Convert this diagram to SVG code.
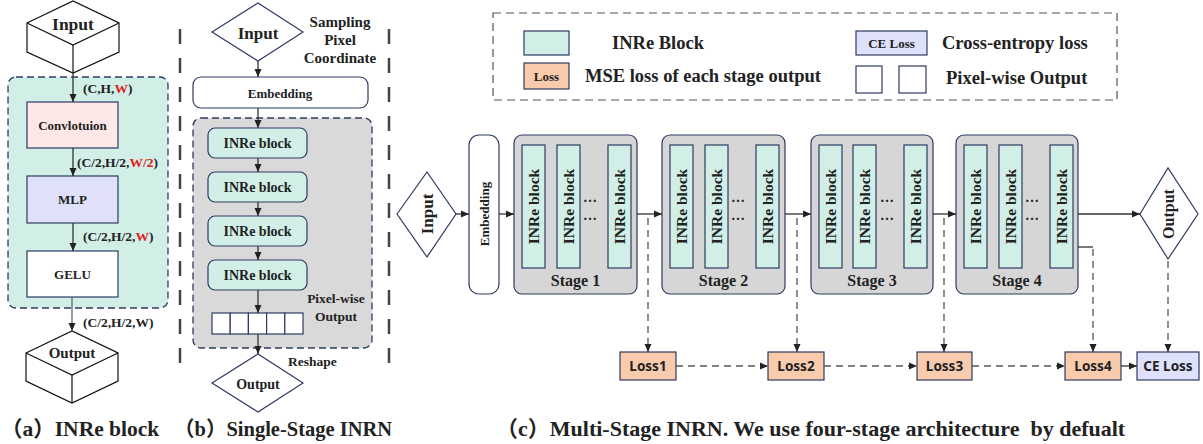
<svg xmlns="http://www.w3.org/2000/svg" width="1203" height="444" viewBox="0 0 1203 444">
<style>
.t{font-family:"Liberation Serif","Noto Sans CJK SC",serif;font-weight:bold;fill:#222}
.s{font-family:"Noto Sans","Open Sans",sans-serif;font-weight:bold;fill:#222}
.m{text-anchor:middle;dominant-baseline:central}
.nav{stroke:#2e3b63;stroke-width:1.2}
.grn{fill:#d1efe7}
.pink{fill:#fde7e7}
.lav{fill:#dfe1fb}
.org{fill:#f8cbad}
.wht{fill:#fff}
.gry{fill:#d6d6d6}
.cube{fill:#fff;stroke:#111;stroke-width:1.2}
.ln{stroke:#333;stroke-width:1.3;fill:none}
.dl{stroke:#555;stroke-width:1.3;fill:none;stroke-dasharray:7,5}
.blk{fill:#d1efe7;stroke:#2e3b63;stroke-width:1.2}
.lg{font-size:18.5px}
</style>
<defs>
<marker id="ah" markerUnits="userSpaceOnUse" markerWidth="8" markerHeight="8" refX="8" refY="4" orient="auto">
<path d="M0,0.5 L8,4 L0,7.5 z" fill="#222"/>
</marker>
</defs>

<!-- (a) INRe block -->
<g id="a-input">
<polygon class="cube" points="27,23 73,1 119,23 119,52 73,73 27,52"/>
<polyline class="cube" points="27,23 73,45 119,23" fill="none"/>
<line x1="73" y1="45" x2="73" y2="73" stroke="#111" stroke-width="1.2"/>
<text class="t m" x="73" y="24" font-size="17.5">Input</text>
</g>
<g id="a-container">
<rect x="8" y="77" width="160" height="231" rx="8" class="grn" stroke="#2e3b63" stroke-width="1.3" stroke-dasharray="7,4"/>
</g>
<g id="a-conv">
<rect x="27" y="102" width="91" height="46" class="pink nav"/>
<text class="t m" x="72.5" y="125" font-size="13">Convlotuion</text>
</g>
<g id="a-mlp">
<rect x="27" y="176" width="91" height="47" class="lav nav"/>
<text class="t m" x="72.5" y="199.5" font-size="13">MLP</text>
</g>
<g id="a-gelu">
<rect x="27" y="251" width="91" height="46" class="wht nav"/>
<text class="t m" x="72.5" y="274" font-size="13">GELU</text>
</g>
<g id="a-output">
<polygon class="cube" points="26,353 72,331 118,353 118,381 72,403 26,381"/>
<polyline class="cube" points="26,353 72,375 118,353" fill="none"/>
<line x1="72" y1="375" x2="72" y2="403" stroke="#111" stroke-width="1.2"/>
<text class="t m" x="72" y="353" font-size="15">Output</text>
</g>
<g id="a-labels" font-size="13.5">
<text class="t" x="83" y="93">(C,H,<tspan fill="#e02020">W</tspan>)</text>
<text class="t" x="77" y="167">(C/2,H/2,<tspan fill="#e02020">W/2</tspan>)</text>
<text class="t" x="83" y="241">(C/2,H/2,<tspan fill="#e02020">W</tspan>)</text>
<text class="t" x="83" y="327">(C/2,H/2,W)</text>
</g>
<text class="t" x="1" y="436" font-size="21.5">（a）INRe block</text>

<!-- (b) Single-Stage INRN -->
<g id="b-separators">
<line x1="180" y1="29" x2="180" y2="372" stroke="#444" stroke-width="2.5" stroke-dasharray="15,14"/>
<line x1="389" y1="29" x2="389" y2="372" stroke="#444" stroke-width="2.5" stroke-dasharray="15,14"/>
</g>
<g id="b-input">
<polygon points="212,32 258,3 303,32 258,61" fill="#fff" stroke="#2e3b63" stroke-width="1.2"/>
<text class="t m" x="258" y="33" font-size="17">Input</text>
</g>
<g id="b-sampling" font-size="15">
<text class="t" x="340" y="27" text-anchor="middle">Sampling</text>
<text class="t" x="340" y="45" text-anchor="middle">Pixel</text>
<text class="t" x="340" y="63" text-anchor="middle">Coordinate</text>
</g>
<g id="b-embedding">
<rect x="193" y="77" width="175" height="31" rx="8" class="wht nav"/>
<text class="t m" x="280" y="93" font-size="13">Embedding</text>
</g>
<g id="b-container">
<rect x="193" y="118" width="179" height="230" rx="8" fill="#d9d9d9" stroke="#2e3b63" stroke-width="1.3" stroke-dasharray="7,4"/>
</g>
<g id="b-inre1"><rect x="208" y="128" width="99" height="30" rx="7" class="blk"/><text class="t m" x="257.5" y="143" font-size="14">INRe block</text></g>
<g id="b-inre2"><rect x="208" y="172" width="99" height="30" rx="7" class="blk"/><text class="t m" x="257.5" y="187" font-size="14">INRe block</text></g>
<g id="b-inre3"><rect x="208" y="216" width="99" height="30" rx="7" class="blk"/><text class="t m" x="257.5" y="231" font-size="14">INRe block</text></g>
<g id="b-inre4"><rect x="208" y="260" width="99" height="30" rx="7" class="blk"/><text class="t m" x="257.5" y="275" font-size="14">INRe block</text></g>
<g id="b-pixels" fill="#fff" stroke="#2e3b63" stroke-width="1.2">
<rect x="212" y="313" width="18.2" height="21"/>
<rect x="230.2" y="313" width="18.2" height="21"/>
<rect x="248.4" y="313" width="18.2" height="21"/>
<rect x="266.6" y="313" width="18.2" height="21"/>
<rect x="284.8" y="313" width="18.2" height="21"/>
</g>
<g id="b-pixel-label" font-size="13.5">
<text class="t" x="336" y="303" text-anchor="middle">Pixel-wise</text>
<text class="t" x="336" y="321" text-anchor="middle">Output</text>
<text class="t" x="288" y="366">Reshape</text>
</g>
<g id="b-output">
<polygon points="212,383 258,354 303,383 258,412" fill="#fff" stroke="#2e3b63" stroke-width="1.2"/>
<text class="t m" x="258" y="384" font-size="14">Output</text>
</g>
<text class="t" x="174" y="436" font-size="20.5">（b）Single-Stage INRN</text>

<!-- (c) legend -->
<g id="legend">
<rect x="493" y="13" width="624" height="87" fill="none" stroke="#555" stroke-width="1.2" stroke-dasharray="8,5"/>
<rect x="524" y="31" width="45" height="24" class="grn nav"/>
<text class="t lg" x="612" y="49">INRe Block</text>
<rect x="524" y="63" width="45" height="26" class="org nav"/>
<text class="t m" x="546.5" y="76.5" font-size="13">Loss</text>
<text class="t lg" x="585" y="82">MSE loss of each stage output</text>
<rect x="856" y="31" width="71" height="24" class="lav nav"/>
<text class="t m" x="891.5" y="43" font-size="13">CE Loss</text>
<text class="t lg" x="942" y="49">Cross-entropy loss</text>
<rect x="856" y="66" width="26" height="27" class="wht nav"/>
<rect x="899" y="66" width="27" height="27" class="wht nav"/>
<text class="t lg" x="946" y="84">Pixel-wise Output</text>
</g>

<!-- (c) multi-stage -->
<g id="c-input">
<polygon points="397,214 427,172 456,214 427,257" fill="#fff" stroke="#2e3b63" stroke-width="1.2"/>
<text class="t m" transform="translate(427,214) rotate(-90)" font-size="17">Input</text>
</g>
<g id="c-embedding">
<rect x="469" y="135" width="30" height="159" rx="10" class="wht nav"/>
<text class="t m" transform="translate(484,214) rotate(-90)" font-size="13">Embedding</text>
</g>
<g id="stage1">
<rect x="514" y="135" width="123" height="159" rx="8" class="gry nav"/>
<rect x="522" y="145" width="23" height="123" class="blk"/>
<rect x="557" y="145" width="23" height="123" class="blk"/>
<rect x="608" y="145" width="23" height="123" class="blk"/>
<text class="t m" transform="translate(533.5,206.5) rotate(-90)" font-size="15.5">INRe block</text>
<text class="t m" transform="translate(568.5,206.5) rotate(-90)" font-size="15.5">INRe block</text>
<text class="t m" transform="translate(619.5,206.5) rotate(-90)" font-size="15.5">INRe block</text>
<text class="t" x="590" y="202" text-anchor="middle" font-size="14">…</text>
<text class="t" x="590" y="220" text-anchor="middle" font-size="14">…</text>
<text class="t" x="575.5" y="286" text-anchor="middle" font-size="16">Stage 1</text>
</g>
<g id="stage2">
<rect x="662" y="135" width="123" height="159" rx="8" class="gry nav"/>
<rect x="670" y="145" width="23" height="123" class="blk"/>
<rect x="705" y="145" width="23" height="123" class="blk"/>
<rect x="756" y="145" width="23" height="123" class="blk"/>
<text class="t m" transform="translate(681.5,206.5) rotate(-90)" font-size="15.5">INRe block</text>
<text class="t m" transform="translate(716.5,206.5) rotate(-90)" font-size="15.5">INRe block</text>
<text class="t m" transform="translate(767.5,206.5) rotate(-90)" font-size="15.5">INRe block</text>
<text class="t" x="738" y="202" text-anchor="middle" font-size="14">…</text>
<text class="t" x="738" y="220" text-anchor="middle" font-size="14">…</text>
<text class="t" x="723.5" y="286" text-anchor="middle" font-size="16">Stage 2</text>
</g>
<g id="stage3">
<rect x="811" y="135" width="122" height="159" rx="8" class="gry nav"/>
<rect x="819" y="145" width="23" height="123" class="blk"/>
<rect x="853" y="145" width="23" height="123" class="blk"/>
<rect x="904" y="145" width="23" height="123" class="blk"/>
<text class="t m" transform="translate(830.5,206.5) rotate(-90)" font-size="15.5">INRe block</text>
<text class="t m" transform="translate(864.5,206.5) rotate(-90)" font-size="15.5">INRe block</text>
<text class="t m" transform="translate(915.5,206.5) rotate(-90)" font-size="15.5">INRe block</text>
<text class="t" x="887" y="202" text-anchor="middle" font-size="14">…</text>
<text class="t" x="887" y="220" text-anchor="middle" font-size="14">…</text>
<text class="t" x="872" y="286" text-anchor="middle" font-size="16">Stage 3</text>
</g>
<g id="stage4">
<rect x="956" y="135" width="122" height="159" rx="8" class="gry nav"/>
<rect x="964" y="145" width="23" height="123" class="blk"/>
<rect x="999" y="145" width="23" height="123" class="blk"/>
<rect x="1050" y="145" width="23" height="123" class="blk"/>
<text class="t m" transform="translate(975.5,206.5) rotate(-90)" font-size="15.5">INRe block</text>
<text class="t m" transform="translate(1010.5,206.5) rotate(-90)" font-size="15.5">INRe block</text>
<text class="t m" transform="translate(1061.5,206.5) rotate(-90)" font-size="15.5">INRe block</text>
<text class="t" x="1032" y="202" text-anchor="middle" font-size="14">…</text>
<text class="t" x="1032" y="220" text-anchor="middle" font-size="14">…</text>
<text class="t" x="1017" y="286" text-anchor="middle" font-size="16">Stage 4</text>
</g>
<g id="c-output">
<polygon points="1140,214 1168,168 1198,214 1168,259" fill="#fff" stroke="#2e3b63" stroke-width="1.2"/>
<text class="t m" transform="translate(1168,214) rotate(-90)" font-size="16">Output</text>
</g>
<g id="loss1"><rect x="620" y="352" width="56" height="28" class="org nav"/><text class="s m" x="648" y="366" font-size="13.5">Loss1</text></g>
<g id="loss2"><rect x="768" y="352" width="56" height="28" class="org nav"/><text class="s m" x="796" y="366" font-size="13.5">Loss2</text></g>
<g id="loss3"><rect x="917" y="352" width="55" height="28" class="org nav"/><text class="s m" x="944.5" y="366" font-size="13.5">Loss3</text></g>
<g id="loss4"><rect x="1065" y="352" width="56" height="28" class="org nav"/><text class="s m" x="1093" y="366" font-size="13.5">Loss4</text></g>
<g id="celoss"><rect x="1137" y="352" width="62" height="28" class="lav nav"/><text class="s m" x="1168" y="366" font-size="13.5">CE Loss</text></g>

<g id="connectors">
<!-- (a) -->
<line class="ln" x1="73" y1="73" x2="73" y2="102" marker-end="url(#ah)"/>
<line class="ln" x1="73" y1="148" x2="73" y2="176" marker-end="url(#ah)"/>
<line class="ln" x1="73" y1="223" x2="73" y2="251" marker-end="url(#ah)"/>
<line x1="72" y1="297" x2="72" y2="331" stroke="#666" stroke-width="1.3" marker-end="url(#ah)"/>
<!-- (b) -->
<line class="ln" x1="258" y1="61" x2="258" y2="77" marker-end="url(#ah)"/>
<line class="ln" x1="258" y1="108" x2="258" y2="128" marker-end="url(#ah)"/>
<line class="ln" x1="258" y1="158" x2="258" y2="172" marker-end="url(#ah)"/>
<line class="ln" x1="258" y1="202" x2="258" y2="216" marker-end="url(#ah)"/>
<line class="ln" x1="258" y1="246" x2="258" y2="260" marker-end="url(#ah)"/>
<line class="ln" x1="258" y1="290" x2="258" y2="313" marker-end="url(#ah)"/>
<line class="ln" x1="258" y1="334" x2="258" y2="354" marker-end="url(#ah)"/>
<!-- (c) -->
<line class="ln" x1="456" y1="214" x2="469" y2="214" marker-end="url(#ah)"/>
<line class="ln" x1="499" y1="214" x2="514" y2="214" marker-end="url(#ah)"/>
<line class="ln" x1="637" y1="214" x2="662" y2="214" marker-end="url(#ah)"/>
<line class="ln" x1="785" y1="214" x2="811" y2="214" marker-end="url(#ah)"/>
<line class="ln" x1="933" y1="214" x2="956" y2="214" marker-end="url(#ah)"/>
<line class="ln" x1="1078" y1="214" x2="1140" y2="214" marker-end="url(#ah)"/>
<polyline class="ln" points="1078,247 1093,247"/>
<line class="dl" x1="648" y1="218" x2="648" y2="352" marker-end="url(#ah)"/>
<line class="dl" x1="797" y1="218" x2="797" y2="352" marker-end="url(#ah)"/>
<line class="dl" x1="944" y1="218" x2="944" y2="352" marker-end="url(#ah)"/>
<line class="dl" x1="1093" y1="249" x2="1093" y2="352" marker-end="url(#ah)"/>
<line class="dl" x1="1168" y1="261" x2="1168" y2="352" marker-end="url(#ah)"/>
<line class="dl" x1="676" y1="366" x2="768" y2="366" marker-end="url(#ah)"/>
<line class="dl" x1="824" y1="366" x2="917" y2="366" marker-end="url(#ah)"/>
<line class="dl" x1="972" y1="366" x2="1065" y2="366" marker-end="url(#ah)"/>
<line class="ln" x1="1121" y1="366" x2="1137" y2="366" marker-end="url(#ah)"/>
</g>

<text class="t" x="496" y="436" font-size="22" xml:space="preserve">（c）Multi-Stage INRN. We use four-stage architecture  by defualt</text>
</svg>
